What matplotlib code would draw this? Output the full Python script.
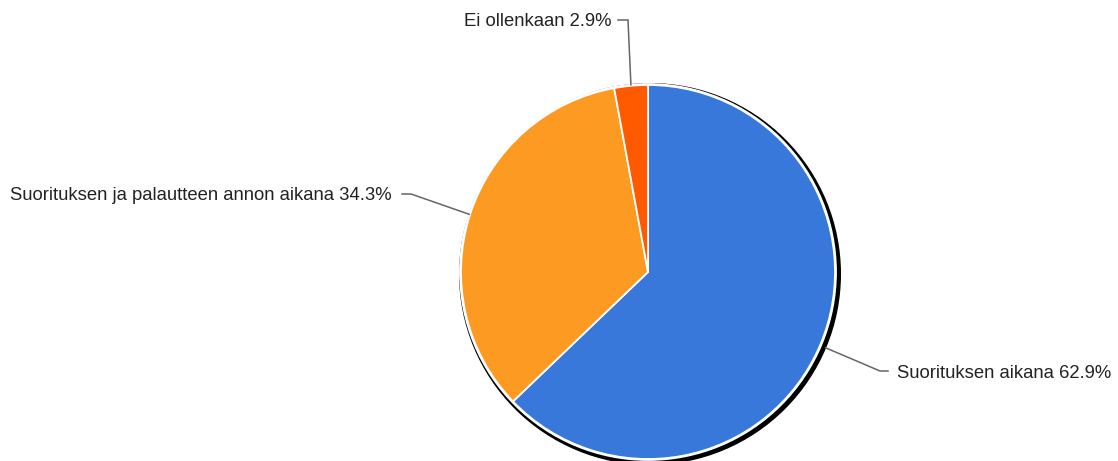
import numpy as np
import matplotlib
matplotlib.use("Agg")
import matplotlib.pyplot as plt
from matplotlib.patches import Circle

labels = ["Suorituksen aikana", "Suorituksen ja palautteen annon aikana", "Ei ollenkaan"]
values = [62.9, 34.3, 2.9]
colors = ["#3878da", "#fd9a22", "#ff5a00"]

W, H = 1118, 461
fig = plt.figure(figsize=(W / 100, H / 100), dpi=100)
ax = fig.add_axes([0, 0, 1, 1])
ax.set_xlim(0, W)
ax.set_ylim(0, H)
ax.set_aspect("equal")
ax.axis("off")

cx, cy, r = 648, H - 272, 187

# shadow / outline
ax.add_patch(Circle((cx + 2, cy - 2), r + 3.3, color="black", zorder=1))
ax.add_patch(Circle((cx, cy), r + 1.2, color="white", zorder=2))

wedges, _ = ax.pie(values, colors=colors, startangle=90, counterclock=False,
                   center=(cx, cy), radius=r, frame=True,
                   wedgeprops=dict(edgecolor="white", linewidth=1.3))
for w in wedges:
    w.set_zorder(3)
ax.set_xlim(0, W)
ax.set_ylim(0, H)
ax.axis("off")

# label layout (pixel positions of elbow and text)
layouts = [
    dict(r_start=r + 6, elbow=(880, 371), end=(888, 371), text=(897, 373), ha="left"),
    dict(r_start=r + 1, elbow=(411, 194), end=(402, 194), text=(392, 196), ha="right"),
    dict(r_start=r + 1, elbow=(628, 20), end=(618, 20), text=(612, 22), ha="right"),
]

total = sum(values)
start = 90.0
for lab, v, lay in zip(labels, values, layouts):
    sweep = v / total * 360
    mid = np.deg2rad(start - sweep / 2)
    start -= sweep
    x0 = cx + lay["r_start"] * np.cos(mid)
    y0 = cy + lay["r_start"] * np.sin(mid)
    ex, ey = lay["elbow"]
    fx, fy = lay["end"]
    ax.plot([x0, ex, fx], [y0, H - ey, H - fy], color="#666666", lw=1.1,
            zorder=4, solid_joinstyle="miter")
    tx, ty = lay["text"]
    ax.text(tx, H - ty, f"{lab} {v}%", ha=lay["ha"], va="center",
            fontsize=13.3, family="Liberation Sans", color="#222222")

fig.savefig("out.png", dpi=100)
